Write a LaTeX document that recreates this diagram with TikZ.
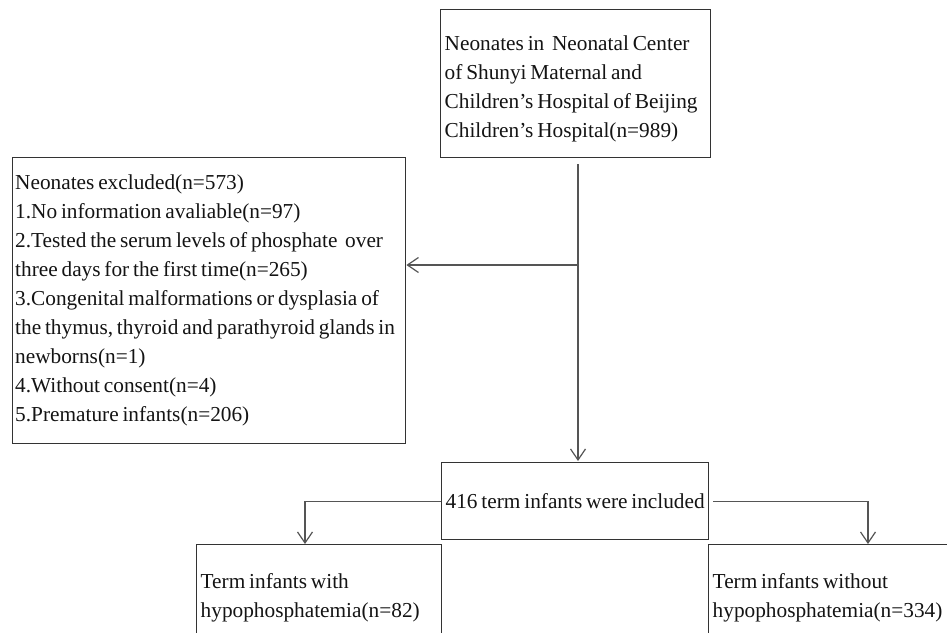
\documentclass[tikz,border=0pt]{standalone}
\usepackage{fontspec}
\setmainfont[WordSpace=0.72]{Liberation Serif}
\usetikzlibrary{arrows.meta,calc}
\definecolor{boxline}{HTML}{333333}
\definecolor{conline}{HTML}{555555}
\definecolor{txt}{HTML}{141414}
\begin{document}
\begin{tikzpicture}[x=1pt,y=-1pt,
  every node/.style={font=\fontsize{21.3}{29}\selectfont, text=txt,
    execute at begin node={\spaceskip=0pt\xspaceskip=0pt\relax}},
  flowbox/.style={draw=boxline, line width=1.4pt, anchor=north west, align=left, inner ysep=0pt},
  conn/.style={draw=conline, line width=1.4pt},
  arr/.style={conn, -{Straight Barb[length=11pt,width=15pt,line width=1.2pt]}}
  ]
\useasboundingbox (0,0) rectangle (947,632);
\clip (0,0) rectangle (947,632);
\fill[white] (0,0) rectangle (947,632);

\node[flowbox, text width=262pt, inner xsep=4pt, minimum height=148pt] (top) at (440,9)
  {\rule{0pt}{26pt}\mbox{Neonates in\ \ Neonatal Center}\\ \mbox{of Shunyi Maternal and}\\ \mbox{Children's Hospital of Beijing}\\ \mbox{Children's Hospital(n=989)}};

\node[flowbox, text width=388pt, inner xsep=2.5pt, minimum height=286pt] (excl) at (12,157)
  {\mbox{Neonates excluded(n=573)}\\
   \mbox{1.No information avaliable(n=97)}\\
   \mbox{2.Tested the serum levels of phosphate\ \ over}\\
   \mbox{three days for the first time(n=265)}\\
   \mbox{3.Congenital malformations or dysplasia of}\\
   \mbox{the thymus, thyroid and parathyroid glands in}\\
   \mbox{newborns(n=1)}\\
   \mbox{4.Without consent(n=4)}\\
   \mbox{5.Premature infants(n=206)}};

\node[flowbox, align=center, minimum width=267pt, minimum height=77pt, inner xsep=1pt] (mid) at (441,462)
  {416 term infants were included};

\node[flowbox, text width=237pt, inner xsep=4pt, minimum height=106pt] (with) at (196,544)
  {\mbox{Term infants with}\\ \mbox{hypophosphatemia(n=82)}};

\node[flowbox, text width=250pt, inner xsep=4pt, minimum height=106pt] (without) at (708,544)
  {\mbox{Term infants without}\\ \mbox{hypophosphatemia(n=334)}};

\coordinate (vx) at (578,0);
\coordinate (split) at (578,265);
\coordinate (lx) at (305,0);
\coordinate (rx) at (868,0);

\draw[arr] ($(top.south -| vx)+(0,6)$) -- ($(mid.north -| vx)+(0,-1)$);
\draw[arr] (split) -- (excl.east |- split);
\draw[conn] (mid.west) -- (mid.west -| lx);
\draw[arr] (mid.west -| lx) -- (with.north -| lx);
\draw[conn] ($(mid.east)+(4,0)$) -- (mid.east -| rx);
\draw[arr] (mid.east -| rx) -- (without.north -| rx);
\end{tikzpicture}
\end{document}
